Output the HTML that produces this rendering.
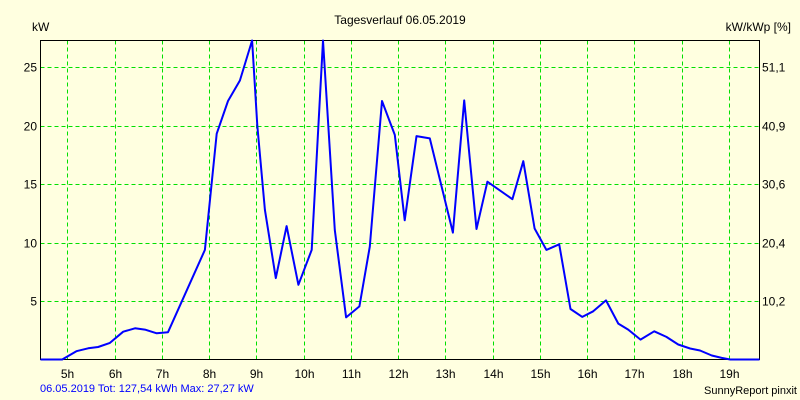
<!DOCTYPE html>
<html><head><meta charset="utf-8"><style>
html,body{margin:0;padding:0;background:#ffffe0;}
svg{display:block;font-family:"Liberation Sans",sans-serif;}
</style></head><body>
<svg id="chart" width="800" height="400" xmlns="http://www.w3.org/2000/svg">
<rect x="0" y="0" width="800" height="400" fill="#ffffe0"/>
<text x="400" y="24" text-anchor="middle" font-size="12" fill="#000">Tagesverlauf 06.05.2019</text>
<text x="32" y="31" font-size="12" fill="#000">kW</text>
<text x="791" y="31" text-anchor="end" font-size="12" fill="#000">kW/kWp [%]</text>
<g id="grid"></g>
<g id="ticks"></g>
<rect x="40.5" y="40.5" width="719" height="319" fill="none" stroke="#000" stroke-width="1"/>
<polyline id="line" fill="none" stroke="#0000ff" stroke-width="2" stroke-linejoin="round"/>
<text x="40" y="392" font-size="11" fill="#0000ff">06.05.2019 Tot: 127,54 kWh Max: 27,27 kW</text>
<text x="797" y="394" text-anchor="end" font-size="11" fill="#000">SunnyReport pinxit</text>
</svg>
<script>
const hours = [4.43,4.89,5.19,5.44,5.65,5.90,6.18,6.43,6.64,6.89,7.13,7.91,8.16,8.40,8.65,8.91,9.02,9.18,9.41,9.64,9.89,10.17,10.41,10.66,10.90,11.18,11.40,11.66,11.93,12.14,12.39,12.67,13.16,13.40,13.66,13.89,14.42,14.65,14.89,15.14,15.41,15.65,15.90,16.13,16.40,16.66,16.87,17.13,17.42,17.68,17.93,18.18,18.39,18.64,18.85,19.03,19.65];
const power = [0,0,0.71,0.96,1.07,1.42,2.38,2.67,2.56,2.24,2.33,9.37,19.3,22.1,23.85,27.27,20.0,12.8,6.96,11.4,6.39,9.37,27.27,11.07,3.6,4.54,9.65,22.1,19.2,11.9,19.1,18.9,10.85,22.15,11.16,15.2,13.7,16.95,11.2,9.37,9.85,4.32,3.64,4.12,5.05,3.07,2.56,1.70,2.41,1.93,1.28,0.94,0.77,0.34,0.14,0,0];
const hourTicks = [5,6,7,8,9,10,11,12,13,14,15,16,17,18,19];
const leftTicks = [5,10,15,20,25];
const rightTickLabels = ["10,2","20,4","30,6","40,9","51,1"];
const NS="http://www.w3.org/2000/svg";
const X0=40.5,X1=759.5,Y0=40.5,Y1=359.5,HMIN=4.43,HMAX=19.65,VMAX=27.27;
function xs(h){return X0+(h-HMIN)/(HMAX-HMIN)*(X1-X0);}
function ys(v){return Y1-v/VMAX*(Y1-Y0);}
const grid=document.getElementById('grid'),ticks=document.getElementById('ticks');
function mk(tag,attrs,parent){const e=document.createElementNS(NS,tag);for(const k in attrs)e.setAttribute(k,attrs[k]);parent.appendChild(e);return e;}
hourTicks.forEach(h=>{
  const x=Math.round(xs(h))+0.5;
  const l=mk('line',{x1:x,x2:x,y1:Y0,y2:Y1,stroke:'#00e000','stroke-dasharray':'4,3'},grid);
  
  
  const t=mk('text',{x:x,y:378,'text-anchor':'middle','font-size':12},ticks);
  t.textContent=h+'h';
  
  
});
leftTicks.forEach((v,i)=>{
  const y=Math.round(ys(v))+0.5;
  const l=mk('line',{x1:X0,x2:X1,y1:y,y2:y,stroke:'#00e000','stroke-dasharray':'4,3'},grid);
  
  
  const t=mk('text',{x:37,y:y+4,'text-anchor':'end','font-size':12},ticks);
  t.textContent=v;
  
  
  const r=mk('text',{x:762,y:y+4,'font-size':12},ticks);
  r.textContent=rightTickLabels[i];
  
  
});
document.getElementById('line').setAttribute('points',hours.map((h,i)=>xs(h).toFixed(1)+','+ys(power[i]).toFixed(1)).join(' '));
</script>
</body></html>
